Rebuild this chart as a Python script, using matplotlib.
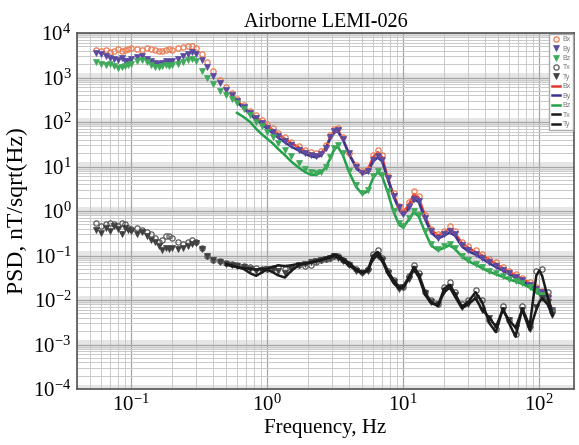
import matplotlib
matplotlib.use('Agg')
import matplotlib.pyplot as plt
from matplotlib.ticker import LogLocator, NullFormatter, FixedLocator, LogFormatterSciNotation

plt.rcParams['font.family'] = ['Liberation Serif', 'DejaVu Serif']
plt.rcParams['mathtext.fontset'] = 'custom'
plt.rcParams['mathtext.rm'] = 'Liberation Serif'
plt.rcParams['mathtext.it'] = 'Liberation Serif:italic'
plt.rcParams['mathtext.bf'] = 'Liberation Serif:bold'

# ---------------- data ----------------
freq = [0.055, 0.06, 0.065, 0.07, 0.075, 0.08, 0.085, 0.09, 0.095, 0.10,
        0.11, 0.12, 0.13, 0.14, 0.15, 0.16, 0.17, 0.18, 0.19, 0.20,
        0.22, 0.24, 0.26, 0.28, 0.30, 0.33, 0.36, 0.40, 0.45, 0.50,
        0.55, 0.60, 0.67, 0.75, 0.83, 0.92, 1.0, 1.1, 1.2, 1.35,
        1.5, 1.7, 1.9, 2.1, 2.3, 2.5, 2.7, 2.9, 3.1, 3.3,
        3.6, 4.0, 4.5, 5.0, 5.5, 6.0, 6.5, 7.0, 7.7, 8.5,
        9.3, 10, 11, 12, 13, 14.5, 16, 18, 20, 22,
        24, 27, 30, 34, 38, 43, 48, 54, 60, 67,
        75, 85, 95, 105, 115, 125]

bx_pts = [4200, 3900, 4100, 3700, 4000, 4300, 4000, 4200, 4400, 4500,
          4300, 4200, 4500, 4300, 4100, 4000, 3900, 4100, 4300, 4200,
          4600, 4800, 5100, 5200, 4600, 3400, 2200, 1400, 900, 600,
          450, 330, 240, 180, 140, 110, 90, 72, 58, 45,
          36, 29, 24, 21, 20, 22, 30, 50, 70, 72,
          45, 20, 11, 8, 9, 18, 24, 18, 6, 2.5,
          1.3, 1.0, 1.6, 2.8, 2.2, 0.8, 0.4, 0.3, 0.36, 0.45,
          0.35, 0.2, 0.16, 0.13, 0.11, 0.085, 0.07, 0.055, 0.045, 0.038,
          0.031, 0.025, 0.02, 0.016, 0.012, 0.006]

by_pts = [3600, 3300, 3000, 2800, 2600, 2500, 2700, 2400, 2300, 2600,
          2900, 3000, 2600, 2300, 2100, 2000, 2100, 2300, 2200, 2400,
          2600, 3000, 3400, 3700, 3400, 2500, 1700, 1100, 750, 520,
          400, 300, 220, 160, 120, 95, 75, 60, 48, 37,
          30, 24, 20, 18, 17, 19, 26, 45, 62, 65,
          42, 20, 10, 7, 8, 14, 17, 14, 5.5, 2.2,
          1.2, 0.85, 1.2, 1.9, 1.7, 0.7, 0.35, 0.25, 0.3, 0.35,
          0.3, 0.17, 0.13, 0.11, 0.09, 0.07, 0.058, 0.048, 0.04, 0.033,
          0.028, 0.022, 0.018, 0.015, 0.011, 0.006]

bz_pts = [2200, 2000, 1900, 2000, 1800, 1600, 1700, 1800, 1900, 2000,
          2300, 2500, 2200, 1900, 1700, 1700, 1800, 1900, 1800, 1900,
          2000, 2200, 2500, 2600, 2300, 1400, 950, 700, 500, 400,
          330, 270, 200, 140, 100, 80, 60, 45, 33, 24,
          17, 12, 9, 7.5, 7, 7.5, 10, 16, 26, 30,
          20, 8, 3.8, 2.6, 3, 6, 8, 6.5, 2.8, 1.0,
          0.55, 0.45, 0.7, 1.0, 0.8, 0.35, 0.18, 0.14, 0.16, 0.18,
          0.15, 0.1, 0.08, 0.065, 0.055, 0.045, 0.04, 0.034, 0.03, 0.027,
          0.024, 0.02, 0.016, 0.013, 0.009, 0.005]

tx_pts = [0.55, 0.45, 0.5, 0.55, 0.5, 0.45, 0.55, 0.5, 0.42, 0.4,
          0.42, 0.38, 0.33, 0.3, 0.25, 0.2, 0.22, 0.27, 0.28, 0.25,
          0.2, 0.18, 0.2, 0.22, 0.2, 0.15, 0.1, 0.08, 0.075, 0.068,
          0.065, 0.06, 0.058, 0.055, 0.052, 0.05, 0.05, 0.052, 0.055, 0.05,
          0.055, 0.06, 0.058, 0.062, 0.07, 0.08, 0.085, 0.09, 0.1, 0.095,
          0.08, 0.065, 0.05, 0.042, 0.05, 0.11, 0.13, 0.09, 0.045, 0.028,
          0.02, 0.02, 0.035, 0.06, 0.04, 0.015, 0.01, 0.008, 0.02, 0.025,
          0.015, 0.008, 0.01, 0.017, 0.01, 0.0035, 0.0022, 0.0075, 0.0035, 0.0017,
          0.0075, 0.003, 0.045, 0.05, 0.015, 0.006]

ty_pts = [0.38, 0.32, 0.42, 0.35, 0.45, 0.4, 0.3, 0.42, 0.38, 0.35,
          0.3, 0.33, 0.28, 0.22, 0.2, 0.16, 0.13, 0.15, 0.14, 0.15,
          0.14, 0.15, 0.16, 0.18, 0.19, 0.14, 0.1, 0.08, 0.07, 0.065,
          0.062, 0.058, 0.055, 0.05, 0.045, 0.048, 0.05, 0.05, 0.045, 0.04,
          0.05, 0.06, 0.065, 0.07, 0.075, 0.08, 0.085, 0.09, 0.1, 0.09,
          0.075, 0.06, 0.045, 0.04, 0.045, 0.09, 0.1, 0.08, 0.04, 0.025,
          0.018, 0.02, 0.03, 0.05, 0.035, 0.014, 0.009, 0.008, 0.016, 0.02,
          0.013, 0.007, 0.008, 0.011, 0.006, 0.004, 0.0026, 0.006, 0.0035, 0.0024,
          0.006, 0.0022, 0.007, 0.011, 0.009, 0.0045]

freq_b_line = [0.60, 0.67, 0.75, 0.83, 0.92, 1.0, 1.1, 1.2, 1.35,
               1.5, 1.7, 1.9, 2.1, 2.3, 2.5, 2.7, 2.9, 3.1, 3.3,
               3.6, 4.0, 4.5, 5.0, 5.5, 6.0, 6.5, 7.0, 7.7, 8.5,
               9.3, 10, 11, 12, 13, 14.5, 16, 18, 20, 22,
               24, 27, 30, 34, 38, 43, 48, 54, 60, 67,
               75, 85, 95, 105, 115, 125]

bx_line = [300, 220, 165, 125, 100, 82, 66, 54, 42,
           34, 27, 22, 19, 18, 20, 27, 45, 63, 66,
           42, 19, 10, 7, 8.5, 16, 21, 16, 5.5, 2.3,
           1.2, 0.9, 1.4, 2.4, 2.0, 0.75, 0.38, 0.28, 0.33, 0.4,
           0.32, 0.19, 0.15, 0.12, 0.1, 0.08, 0.065, 0.052, 0.043, 0.036,
           0.03, 0.024, 0.019, 0.015, 0.011, 0.006]

by_line = [280, 205, 150, 112, 88, 70, 56, 45, 35,
           28, 23, 19, 17, 16, 18, 25, 42, 58, 62,
           40, 19, 9.5, 6.8, 7.5, 13, 16, 13, 5.2, 2.1,
           1.1, 0.8, 1.15, 1.8, 1.6, 0.65, 0.33, 0.24, 0.28, 0.33,
           0.28, 0.16, 0.125, 0.105, 0.085, 0.067, 0.055, 0.046, 0.038, 0.032,
           0.027, 0.021, 0.017, 0.014, 0.01, 0.0055]

bz_line = [160, 130, 100, 70, 52, 42, 33, 25, 18,
           13, 9.5, 7.5, 6.5, 6.5, 7.5, 9.5, 15, 24, 28,
           18, 7.5, 3.5, 2.4, 2.8, 5.5, 7.5, 6, 2.6, 0.95,
           0.5, 0.42, 0.65, 0.95, 0.75, 0.33, 0.17, 0.13, 0.15, 0.17,
           0.14, 0.095, 0.075, 0.062, 0.052, 0.043, 0.038, 0.033, 0.029, 0.026,
           0.023, 0.019, 0.015, 0.012, 0.0085, 0.005]

freq_t_line = [0.50, 0.55, 0.60, 0.67, 0.75, 0.83, 0.92, 1.0, 1.1, 1.2,
               1.35, 1.5, 1.7, 1.9, 2.1, 2.3, 2.5, 2.7, 2.9, 3.1,
               3.3, 3.6, 4.0, 4.5, 5.0, 5.5, 6.0, 6.5, 7.0, 7.7,
               8.5, 9.3, 10, 11, 12, 13, 14.5, 16, 18, 20,
               22, 24, 27, 30, 34, 38, 43, 48, 54, 60,
               67, 75, 85, 95, 100, 105, 115, 125]

tx_line = [0.065, 0.06, 0.055, 0.05, 0.04, 0.035, 0.042, 0.05, 0.055, 0.06,
           0.058, 0.06, 0.065, 0.065, 0.07, 0.075, 0.08, 0.088, 0.095, 0.105,
           0.1, 0.085, 0.068, 0.05, 0.042, 0.048, 0.1, 0.12, 0.085, 0.045,
           0.028, 0.02, 0.02, 0.033, 0.055, 0.038, 0.015, 0.009, 0.0075, 0.018,
           0.022, 0.014, 0.007, 0.009, 0.015, 0.009, 0.003, 0.0019, 0.0065, 0.003,
           0.0015, 0.0065, 0.0026, 0.035, 0.046, 0.035, 0.012, 0.005]

ty_line = [0.062, 0.058, 0.055, 0.052, 0.05, 0.048, 0.05, 0.048, 0.042, 0.036,
           0.032, 0.045, 0.06, 0.066, 0.07, 0.075, 0.078, 0.085, 0.09, 0.098,
           0.09, 0.075, 0.06, 0.046, 0.04, 0.045, 0.085, 0.1, 0.075, 0.04,
           0.024, 0.018, 0.019, 0.03, 0.048, 0.033, 0.013, 0.0085, 0.0075, 0.015,
           0.019, 0.012, 0.0065, 0.008, 0.011, 0.006, 0.004, 0.0025, 0.006, 0.0035,
           0.0024, 0.006, 0.0021, 0.006, 0.009, 0.011, 0.008, 0.0045]

x_major_ticks = [0.1, 1, 10, 100]
y_major_ticks = [1e-4, 1e-3, 1e-2, 1e-1, 1, 10, 100, 1e3, 1e4]

# ---------------- figure ----------------
W, H = 579, 445
fig = plt.figure(figsize=(W / 100, H / 100), dpi=100)
ax = fig.add_axes([77 / W, 1 - 389 / H, (574 - 77) / W, (389 - 33) / H])
ax.set_xscale('log')
ax.set_yscale('log')
ax.set_xlim(0.04, 180)
ax.set_ylim(1e-4, 1e4)

# grid with light bands around each decade
for v in y_major_ticks:
    ax.axhspan(0.8 * v, min(1.25 * v, 1e4), color='#e6e6e6', lw=0, zorder=0)
ax.xaxis.set_major_locator(FixedLocator(x_major_ticks))
ax.yaxis.set_major_locator(FixedLocator(y_major_ticks))
ax.xaxis.set_major_formatter(LogFormatterSciNotation())
ax.yaxis.set_major_formatter(LogFormatterSciNotation())
ax.yaxis.set_minor_locator(LogLocator(base=10, subs=range(2, 10), numticks=20))
ax.xaxis.set_minor_locator(LogLocator(base=10, subs=range(2, 10), numticks=20))
ax.yaxis.set_minor_formatter(NullFormatter())
ax.xaxis.set_minor_formatter(NullFormatter())
ax.grid(True, which='major', color='#a6a6a6', lw=0.9, zorder=1)
ax.grid(True, which='minor', color='#c9c9c9', lw=0.7, zorder=1)
ax.set_axisbelow(True)

c_bx_m, c_by_m, c_bz_m = '#ee7a50', '#5a4aa0', '#3eaa5a'
c_bx_l, c_by_l, c_bz_l = '#e03a2e', '#3a3590', '#22a04a'

# lines
lbx, = ax.plot(freq_b_line, bx_line, color=c_bx_l, lw=1.8, label='Bx', zorder=3)
lby, = ax.plot(freq_b_line, by_line, color=c_by_l, lw=1.8, label='By', zorder=3)
lbz, = ax.plot(freq_b_line, bz_line, color=c_bz_l, lw=1.8, label='Bz', zorder=3)
ltx, = ax.plot(freq_t_line, tx_line, color='#1a1a1a', lw=1.8, label='Tx', zorder=5)
lty, = ax.plot(freq_t_line, ty_line, color='#1a1a1a', lw=1.8, label='Ty', zorder=5)

# markers
mbx, = ax.plot(freq, bx_pts, ls='none', marker='o', ms=3.8, mfc='none', mec=c_bx_m, mew=0.9, label='Bx', zorder=4)
mby, = ax.plot(freq, by_pts, ls='none', marker='v', ms=3.8, mfc=c_by_m, mec=c_by_m, mew=0.5, label='By', zorder=4)
mbz, = ax.plot(freq, bz_pts, ls='none', marker='v', ms=3.8, mfc=c_bz_m, mec=c_bz_m, mew=0.5, label='Bz', zorder=4)
mtx, = ax.plot(freq, tx_pts, ls='none', marker='o', ms=3.8, mfc='none', mec='#5a5a5a', mew=0.9, label='Tx', zorder=4)
mty, = ax.plot(freq, ty_pts, ls='none', marker='v', ms=3.8, mfc='#404040', mec='#404040', mew=0.5, label='Ty', zorder=4)

leg = ax.legend(handles=[mbx, mby, mbz, mtx, mty, lbx, lby, lbz, ltx, lty],
                loc='upper right', prop={'family': 'Liberation Sans', 'size': 5},
                handlelength=1.2, handletextpad=0.4, labelspacing=0.35,
                borderpad=0.3, borderaxespad=0.15, frameon=True, fancybox=False,
                edgecolor='#aaaaaa', framealpha=1)
for t in leg.get_texts():
    t.set_color('#777777')

ax.tick_params(which='both', direction='in', top=True, right=True, length=0)
ax.tick_params(which='major', labelsize=15, pad=4)
for s in ax.spines.values():
    s.set_color('#555555')
    s.set_linewidth(1.2)

ax.set_title('Airborne LEMI-026', fontsize=14.5, pad=4)
ax.set_xlabel('Frequency, Hz', fontsize=15, labelpad=2)
ax.set_ylabel('PSD, nT/sqrt(Hz)', fontsize=17, labelpad=4)

fig.savefig('out.png', dpi=100)
